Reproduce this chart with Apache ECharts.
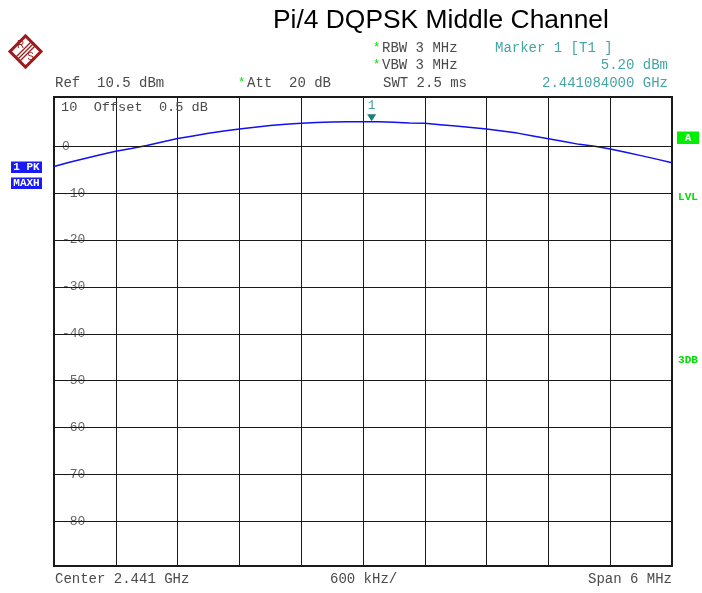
<!DOCTYPE html>
<html><head><meta charset="utf-8">
<script src="https://cdn.jsdelivr.net/npm/echarts@6/dist/echarts.min.js"></script>
<style>html,body{margin:0;padding:0;background:#fff}#c{width:702px;height:593px}</style>
</head><body><div id="c"></div><script>
// Frequency offset from center (kHz), center = 2.441 GHz
const freqKHz = [-3000,-2850,-2700,-2550,-2400,-2250,-2100,-1950,-1800,-1650,-1500,-1350,-1200,-1050,-900,-750,-600,-450,-300,-150,0,150,300,450,600,750,900,1050,1200,1350,1500,1650,1800,1950,2100,2250,2400,2550,2700,2850,3000];
const levelDbm = [-4.3,-3.4,-2.6,-1.8,-1.05,-0.5,0.15,0.9,1.65,2.2,2.75,3.25,3.7,4.05,4.4,4.7,4.9,5.05,5.15,5.2,5.2,5.2,5.1,4.95,4.9,4.6,4.3,4.0,3.7,3.25,2.8,2.2,1.6,1.0,0.4,0.0,-0.6,-1.3,-2.0,-2.75,-3.5];
const yTickValues = [0,-10,-20,-30,-40,-50,-60,-70,-80];
const xMinKHz = -3000, xMaxKHz = 3000, xStepKHz = 600;
const yMin = -89.5, yMax = 10.5;
const markerFreqKHz = 84, markerLevel = 5.2;

const title = 'Pi/4 DQPSK Middle Channel';
const MONO = '"Liberation Mono","DejaVu Sans Mono",monospace';
const GRAY = '#4a4a4a', TEAL = '#45a5a5', GREEN = '#00dd00';

const chart = echarts.init(document.getElementById('c'), null, {renderer:'canvas'});

function txt(x, y, text, opt) {
  opt = opt || {};
  return {type:'text', x:x, y:y, z:10, silent:true, style:{
    text:text, fill:opt.fill||GRAY, font:opt.font||('14px '+MONO),
    textAlign:opt.align||'left', textVerticalAlign:'middle'}};
}

const LOGO = '#9b1c1c';
const graphics = [
  txt(273, 21, title, {fill:'#000', font:'26.4px "Liberation Sans", Arial, sans-serif'}),
  // logo
  {type:'group', x:25.5, y:51.5, silent:true, children:[
    {type:'rect', rotation:Math.PI/4, shape:{x:-11,y:-11,width:22,height:22}, style:{fill:'none', stroke:LOGO, lineWidth:3}},
    {type:'line', shape:{x1:6,y1:-10,x2:-10,y2:6}, style:{stroke:LOGO, lineWidth:1.2}},
    {type:'line', shape:{x1:8,y1:-8,x2:-8,y2:8}, style:{stroke:LOGO, lineWidth:1.2}},
    {type:'line', shape:{x1:10,y1:-6,x2:-6,y2:10}, style:{stroke:LOGO, lineWidth:1.2}},
    {type:'text', x:-5, y:-6, style:{text:'R', fill:LOGO, font:'10px "Liberation Sans"', textAlign:'center', textVerticalAlign:'middle'}},
    {type:'text', x:5, y:6, style:{text:'S', fill:LOGO, font:'10px "Liberation Sans"', textAlign:'center', textVerticalAlign:'middle'}}
  ]},
  txt(373, 48, '*', {fill:GREEN, font:'12px '+MONO}),
  txt(382, 48, 'RBW 3 MHz'),
  txt(373, 65, '*', {fill:GREEN, font:'12px '+MONO}),
  txt(382, 65, 'VBW 3 MHz'),
  txt(383, 83, 'SWT 2.5 ms'),
  txt(495, 48, 'Marker 1 [T1 ]', {fill:TEAL}),
  txt(668, 65, '5.20 dBm', {fill:TEAL, align:'right'}),
  txt(668, 83, '2.441084000 GHz', {fill:TEAL, align:'right'}),
  txt(55, 83, 'Ref  10.5 dBm'),
  txt(238, 83, '*', {fill:GREEN, font:'12px '+MONO}),
  txt(247, 83, 'Att  20 dB'),
  txt(61, 107, '10  Offset  0.5 dB', {font:'13.6px '+MONO}),
  txt(55, 579, 'Center 2.441 GHz'),
  txt(330, 579, '600 kHz/'),
  txt(672, 579, 'Span 6 MHz', {align:'right'}),
  // left trace boxes
  {type:'rect', silent:true, z:10, shape:{x:11,y:161.5,width:31,height:11.5}, style:{fill:'#1a1af5'}},
  txt(26.5, 167.5, '1 PK', {fill:'#fff', font:'bold 11px '+MONO, align:'center'}),
  {type:'rect', silent:true, z:10, shape:{x:11,y:177.5,width:31,height:11.5}, style:{fill:'#1a1af5'}},
  txt(26.5, 183.5, 'MAXH', {fill:'#fff', font:'bold 11px '+MONO, align:'center'}),
  // right indicators
  {type:'rect', silent:true, z:10, shape:{x:677,y:131.5,width:22,height:12.5}, style:{fill:'#00ee00'}},
  txt(688, 138, 'A', {fill:'#fff', font:'bold 11px '+MONO, align:'center'}),
  txt(688, 197.5, 'LVL', {fill:GREEN, font:'bold 11px '+MONO, align:'center'}),
  txt(688, 360, '3DB', {fill:GREEN, font:'bold 11px '+MONO, align:'center'})
];

chart.setOption({
  animation:false,
  backgroundColor:'#fff',
  grid:{left:54, top:97, width:618, height:469, show:true, borderColor:'#1a1a1a', borderWidth:2, backgroundColor:'transparent', containLabel:false},
  xAxis:{type:'value', min:xMinKHz, max:xMaxKHz, interval:xStepKHz,
    axisLine:{show:false}, axisTick:{show:false}, axisLabel:{show:false},
    splitLine:{show:true, lineStyle:{color:'#1a1a1a', width:1}}},
  yAxis:{type:'value', min:yMin, max:yMax, z:3,
    axisLine:{show:false}, axisTick:{show:false}, splitLine:{show:false},
    axisLabel:{show:true, inside:true, customValues:yTickValues, margin:6,
      color:'#666', fontFamily:MONO, fontSize:13, backgroundColor:'#fff', padding:[0,2],
      formatter:function(v){return String(v);}}},
  graphic:graphics,
  series:[
    {type:'line', data:[], z:1, silent:true,
      markLine:{silent:true, symbol:['none','none'], label:{show:false},
        lineStyle:{color:'#1a1a1a', width:1, type:'solid'},
        data:yTickValues.map(function(v){return {yAxis:v};})}},
    {type:'line', z:4, silent:true, showSymbol:false, symbol:'none',
      lineStyle:{color:'#1010f0', width:1.5},
      data:freqKHz.map(function(f,i){return [f, levelDbm[i]];}),
      markPoint:{silent:true, symbol:'triangle', symbolRotate:180, symbolSize:[9,7], symbolOffset:[0,-4],
        itemStyle:{color:'#1b7c7c'},
        label:{show:true, position:'top', distance:2, formatter:'1', color:TEAL, fontFamily:MONO, fontSize:13},
        data:[{coord:[markerFreqKHz, markerLevel]}]}}
  ]
});
</script></body></html>
